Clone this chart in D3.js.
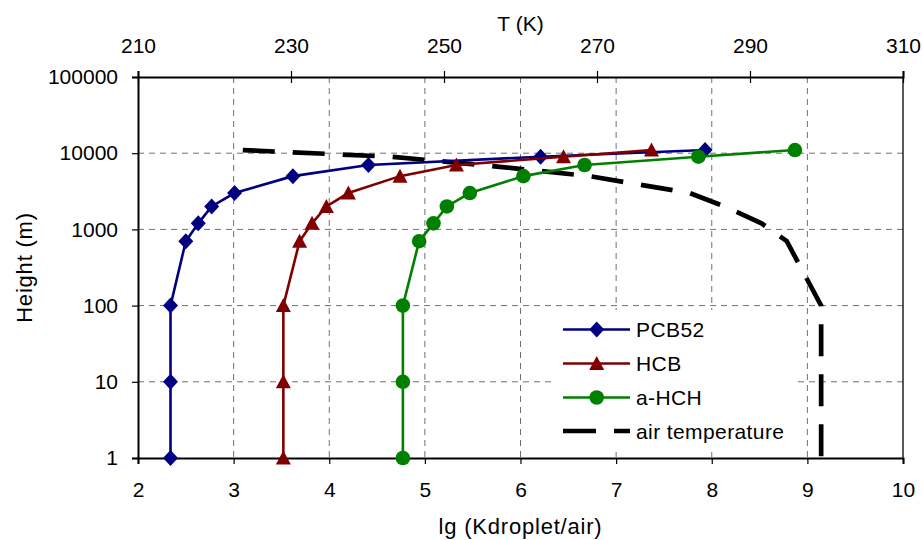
<!DOCTYPE html>
<html>
<head>
<meta charset="utf-8">
<script src="https://cdn.jsdelivr.net/npm/d3@7"></script>
<style>
  body { margin: 0; background: #fff; }
  text { font-family: "Liberation Sans", Arial, sans-serif; fill: #000; }
</style>
</head>
<body>
<div id="chart"></div>
<script>
// heights (m) shared by all profiles
var heights = [1, 10, 100, 700, 1200, 2000, 3000, 5000, 7000, 9000, 11000];

// lg(Kdroplet/air)
var pcb52 = [2.34, 2.34, 2.34, 2.50, 2.63, 2.77, 3.01, 3.62, 4.41, 6.21, 7.93];
var hcb   = [3.52, 3.52, 3.52, 3.69, 3.82, 3.97, 4.20, 4.74, 5.33, 6.45, 7.37];
var ahch  = [4.77, 4.77, 4.77, 4.94, 5.09, 5.23, 5.47, 6.03, 6.67, 7.86, 8.87];

// air temperature (K), top axis
var airT = [299.3, 299.3, 299.3, 294.8, 291.5, 286.7, 282.1, 269, 255, 243, 223.7];

var xTicks = [2, 3, 4, 5, 6, 7, 8, 9, 10];
var tTicks = [210, 230, 250, 270, 290, 310];
var yTicks = [1, 10, 100, 1000, 10000, 100000];

var seriesNames = ["PCB52", "HCB", "a-HCH", "air temperature"];

function init() {
    var W = 922, H = 540;
    var margin = {top: 77, right: 19, bottom: 82, left: 138};
    var w = W - margin.left - margin.right;
    var h = H - margin.top - margin.bottom;

    var x = d3.scaleLinear().domain([2, 10]).range([0, w]);
    var xT = d3.scaleLinear().domain([210, 310]).range([0, w]);
    var y = d3.scaleLog().domain([1, 100000]).range([h, 0]);

    var svg = d3.select("#chart")
                .append("svg")
                .attr("width", W)
                .attr("height", H);

    var g = svg.append("g")
               .attr("transform", "translate(" + margin.left + "," + margin.top + ")");

    // grid
    g.selectAll(".vgrid")
     .data(xTicks.slice(1, -1))
     .enter().append("line")
     .attr("x1", function(d) { return x(d); })
     .attr("x2", function(d) { return x(d); })
     .attr("y1", 0).attr("y2", h)
     .attr("stroke", "#707070").attr("stroke-width", 1)
     .attr("stroke-dasharray", "6,5");

    g.selectAll(".hgrid")
     .data(yTicks.slice(1, -1))
     .enter().append("line")
     .attr("x1", 0).attr("x2", w)
     .attr("y1", function(d) { return y(d); })
     .attr("y2", function(d) { return y(d); })
     .attr("stroke", "#707070").attr("stroke-width", 1)
     .attr("stroke-dasharray", "6,5");

    // right border
    g.append("line")
     .attr("x1", w).attr("x2", w).attr("y1", 0).attr("y2", h)
     .attr("stroke", "#000").attr("stroke-width", 1.3);

    // axes
    var left = g.append("g")
        .call(d3.axisLeft(y).tickValues(yTicks).tickFormat(d3.format("d"))
              .tickSize(6).tickPadding(14));
    var bottom = g.append("g")
        .attr("transform", "translate(0," + h + ")")
        .call(d3.axisBottom(x).tickValues(xTicks).tickFormat(d3.format("d"))
              .tickSize(6).tickPadding(18));
    var top = g.append("g")
        .call(d3.axisTop(xT).tickValues(tTicks).tickFormat(d3.format("d"))
              .tickSize(6).tickPadding(18));
    top.selectAll(".tick line").attr("y1", 6);

    [left, bottom, top].forEach(function(a) {
        a.select(".domain").attr("stroke", "#000").attr("stroke-width", 2);
        a.selectAll(".tick line").attr("stroke", "#000").attr("stroke-width", 1.2);
        a.selectAll("text").attr("font-size", 21)
         .attr("font-family", "Liberation Sans, Arial, sans-serif");
    });

    // axis titles
    svg.append("text")
       .attr("x", margin.left + w / 2).attr("y", 534)
       .attr("text-anchor", "middle").attr("font-size", 22)
       .attr("letter-spacing", 0.8)
       .text("lg (Kdroplet/air)");
    svg.append("text")
       .attr("transform", "translate(31.5," + (margin.top + h / 2) + ") rotate(-90)")
       .attr("text-anchor", "middle").attr("font-size", 22)
       .attr("letter-spacing", 0.8)
       .text("Height (m)");
    svg.append("text")
       .attr("x", margin.left + w / 2).attr("y", 31)
       .attr("text-anchor", "middle").attr("font-size", 21)
       .text("T (K)");

    // marker shapes
    var diamond = { draw: function(c, s) { c.moveTo(0, -8); c.lineTo(7.5, 0); c.lineTo(0, 8); c.lineTo(-7.5, 0); c.closePath(); } };
    var triangle = { draw: function(c, s) { c.moveTo(0, -7.5); c.lineTo(7.5, 6.5); c.lineTo(-7.5, 6.5); c.closePath(); } };
    var circle = { draw: function(c, s) { c.moveTo(7.3, 0); c.arc(0, 0, 7.3, 0, 2 * Math.PI); } };

    var series = [
        {name: seriesNames[0], vals: pcb52, color: "#000080", shape: diamond},
        {name: seriesNames[1], vals: hcb,   color: "#800000", shape: triangle},
        {name: seriesNames[2], vals: ahch,  color: "#008000", shape: circle}
    ];

    // air temperature (dashed)
    var tLine = d3.line()
        .x(function(d) { return xT(d[0]); })
        .y(function(d) { return y(d[1]); });
    g.append("path")
     .datum(d3.zip(airT, heights).reverse())
     .attr("d", tLine)
     .attr("fill", "none").attr("stroke", "#000")
     .attr("stroke-width", 4.7).attr("stroke-dasharray", "32,18");

    var line = d3.line()
        .x(function(d) { return x(d[0]); })
        .y(function(d) { return y(d[1]); });

    series.forEach(function(s) {
        var pts = d3.zip(s.vals, heights);
        g.append("path")
         .datum(pts)
         .attr("d", line)
         .attr("fill", "none").attr("stroke", s.color).attr("stroke-width", 2.6);
        g.selectAll(null)
         .data(pts)
         .enter().append("path")
         .attr("transform", function(d) { return "translate(" + x(d[0]) + "," + y(d[1]) + ")"; })
         .attr("d", d3.symbol().type(s.shape))
         .attr("fill", s.color);
    });

    // legend
    var lg = svg.append("g").attr("transform", "translate(553,310)");
    lg.append("rect").attr("width", 242).attr("height", 142).attr("fill", "#fff");
    var rows = [19.5, 53.5, 87.5, 121];
    series.forEach(function(s, i) {
        var r = lg.append("g").attr("transform", "translate(0," + rows[i] + ")");
        r.append("line").attr("x1", 10).attr("x2", 77)
         .attr("stroke", s.color).attr("stroke-width", 2.6);
        r.append("path").attr("transform", "translate(43.7,0)")
         .attr("d", d3.symbol().type(s.shape)).attr("fill", s.color);
        r.append("text").attr("x", 83).attr("y", 7.5)
         .attr("font-size", 21).attr("letter-spacing", 0.4).text(s.name);
    });
    var r4 = lg.append("g").attr("transform", "translate(0," + rows[3] + ")");
    r4.append("line").attr("x1", 10).attr("x2", 77)
      .attr("stroke", "#000").attr("stroke-width", 4.7).attr("stroke-dasharray", "33,18");
    r4.append("text").attr("x", 83).attr("y", 7.5)
      .attr("font-size", 21).attr("letter-spacing", 0.4).text(seriesNames[3]);
}

window.onload = init;
</script>
</body>
</html>
